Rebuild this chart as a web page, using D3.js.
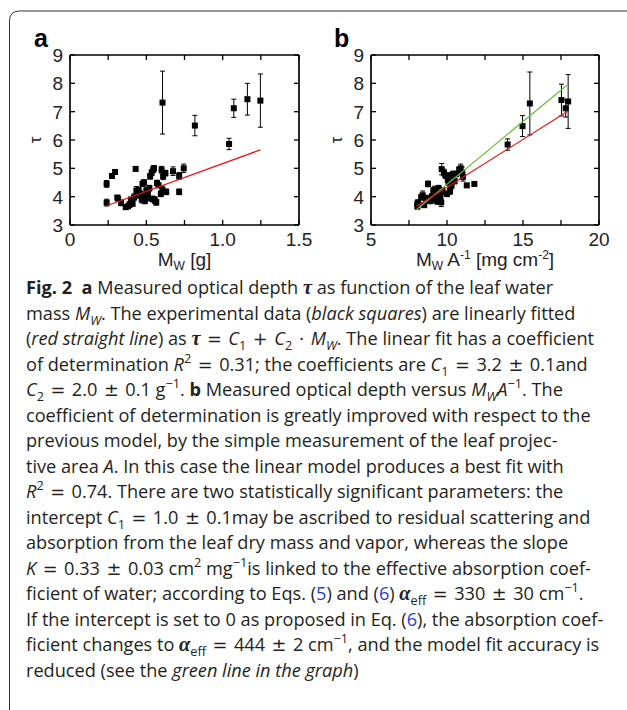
<!DOCTYPE html>
<html><head><meta charset="utf-8">
<script src="https://cdn.jsdelivr.net/npm/d3@7"></script>
<style>body{margin:0;background:#fff}svg{display:block}</style>
</head><body><svg id="c" width="627" height="710" xmlns="http://www.w3.org/2000/svg"></svg>
<script>
// ---------- DATA ----------
// Panel a: leaf water mass M_W [g] vs optical depth tau
const mwA  = [0.24,0.24,0.275,0.295,0.31,0.315,0.335,0.365,0.38,0.39,0.40,0.41,0.42,0.43,0.435,0.44,0.45,0.46,0.47,0.475,0.48,0.485,0.49,0.50,0.505,0.51,0.52,0.525,0.535,0.54,0.545,0.55,0.555,0.565,0.57,0.58,0.595,0.60,0.605,0.61,0.625,0.63,0.675,0.715,0.715,0.745,0.606,0.818,1.042,1.073,1.162,1.247];
const tauA = [4.45,3.79,4.73,4.87,3.97,3.93,3.78,3.63,3.66,3.72,3.90,3.75,3.98,4.98,4.22,4.05,4.20,4.10,3.90,4.45,4.00,4.50,3.85,4.20,3.95,4.08,4.30,4.72,4.85,3.92,4.95,5.00,3.88,3.80,4.48,4.40,4.10,4.95,4.25,4.72,4.83,4.17,4.90,4.73,4.17,5.00,7.32,6.51,5.86,7.12,7.44,7.39];
const errA = [0.12,0.12,0.08,0.08,0.07,0.06,0.10,0.05,0.06,0.10,0.08,0.08,0.12,0.06,0.14,0.10,0.12,0.10,0.12,0.10,0.14,0.10,0.10,0.12,0.10,0.12,0.10,0.10,0.10,0.10,0.10,0.10,0.12,0.10,0.10,0.08,0.10,0.12,0.12,0.12,0.10,0.10,0.15,0.12,0.10,0.15,1.11,0.36,0.20,0.32,0.56,0.94];
// Panel b: M_W A^-1 [mg cm^-2] vs tau
const mwaB = [8.05,8.05,8.10,8.30,8.40,8.50,8.60,8.75,8.80,8.90,9.00,9.10,9.15,9.20,9.30,9.35,9.40,9.45,9.50,9.55,9.60,9.62,9.65,9.70,9.80,9.90,10.00,10.05,10.10,10.20,10.25,10.30,10.40,10.50,10.60,10.80,10.90,11.00,11.05,11.30,11.80,15.45,14.97,13.99,17.53,17.81,17.97];
const tauB = [3.65,3.75,3.80,3.98,4.05,3.70,3.95,4.45,3.90,3.85,4.00,4.20,3.90,4.25,4.05,3.85,4.10,4.30,4.00,3.95,4.15,3.80,4.97,4.20,4.85,4.75,4.10,4.60,4.50,4.20,4.75,4.40,4.80,4.55,4.80,4.95,5.00,4.85,4.70,4.40,4.45,7.29,6.49,5.84,7.41,7.12,7.36];
const errB = [0.08,0.10,0.08,0.10,0.15,0.08,0.10,0.10,0.12,0.10,0.10,0.12,0.12,0.12,0.12,0.12,0.12,0.10,0.12,0.15,0.15,0.15,0.20,0.12,0.12,0.10,0.10,0.10,0.10,0.12,0.10,0.12,0.10,0.10,0.10,0.10,0.15,0.20,0.15,0.06,0.06,1.11,0.37,0.20,0.56,0.31,0.95];
// Fit lines (end points)
const fitAX = [0.24, 1.247],  fitAY = [3.68, 5.65];
const fitBRedX = [8.0, 17.97], fitBRedY = [3.66, 7.02];
const fitBGreenX = [8.0, 17.97], fitBGreenY = [3.55, 7.97];
// Ticks
const yTicks = [3,4,5,6,7,8,9];
const xTicksA = [0,0.25,0.5,0.75,1.0,1.25,1.5];
const xLabelsA = {"0":"0","0.5":"0.5","1":"1.0","1.5":"1.5"};
const xTicksB = [5,7.5,10,12.5,15,17.5,20];
const xLabelsB = {"5":"5","10":"10","15":"15","20":"20"};

// ---------- DRAW ----------
const svg = d3.select("#c");
svg.append("rect").attr("width",627).attr("height",710).attr("fill","#fff");
// frame of figure box
svg.append("path").attr("d","M9.5,710 V21 Q9.5,11 19.5,11 H627")
  .attr("fill","none").attr("stroke","#333").attr("stroke-width",1);

const TOP=55, BOT=225;
const AXFONT = "Liberation Sans, Arial, sans-serif";
function panel(o){
  const g = svg.append("g");
  const x = d3.scaleLinear().domain(o.xDomain).range([o.left,o.right]);
  const y = d3.scaleLinear().domain([3,9]).range([BOT,TOP]);
  // plot frame as four explicit lines
  const fr = g.append("g");
  [[o.left,TOP,o.right,TOP],[o.left,BOT,o.right,BOT],[o.left,TOP,o.left,BOT],[o.right,TOP,o.right,BOT]]
    .forEach(([x1,y1,x2,y2])=>fr.append("line").attr("x1",x1).attr("y1",y1).attr("x2",x2).attr("y2",y2)
      .style("stroke","#000").style("stroke-width","1.2px"));
  const font = (sel)=>sel.attr("font-family",AXFONT).attr("font-size",19).attr("fill","#222");
  const gb = g.append("g").attr("transform",`translate(0,${BOT})`)
    .call(d3.axisBottom(x).offset(0).tickValues(o.xTicks).tickSizeInner(-5).tickSizeOuter(0).tickPadding(8)
      .tickFormat(d=>o.xLabels[String(d)]||""));
  const gt = g.append("g").attr("transform",`translate(0,${TOP})`)
    .call(d3.axisTop(x).offset(0).tickValues(o.xTicks).tickSizeInner(-5).tickSizeOuter(0).tickFormat(""));
  const gl = g.append("g").attr("transform",`translate(${o.left},0)`)
    .call(d3.axisLeft(y).offset(0).tickValues(yTicks).tickSizeInner(-5).tickSizeOuter(0).tickPadding(7).tickFormat(d3.format("d")));
  const gr = g.append("g").attr("transform",`translate(${o.right},0)`)
    .call(d3.axisRight(y).offset(0).tickValues(yTicks).tickSizeInner(-5).tickSizeOuter(0).tickFormat(""));
  [gb,gt,gl,gr].forEach(a=>{
    a.selectAll("text").call(font);
    a.selectAll("line").style("stroke","#000").style("stroke-width","1.3px");
    a.selectAll("path.domain").style("stroke","#000").style("stroke-width","1.2px").attr("fill","none");
  });
  gl.selectAll("text").attr("dy","0.36em");
  // data
  const pts = o.xs.map((v,i)=>({x:v,y:o.ys[i],e:o.es[i]}));
  const eb = g.append("g").attr("stroke","#000").attr("stroke-width",1);
  pts.forEach(p=>{
    const cx = x(p.x), y1=y(p.y+p.e), y2=y(p.y-p.e);
    eb.append("line").attr("x1",cx).attr("x2",cx).attr("y1",y1).attr("y2",y2);
    eb.append("line").attr("x1",cx-2.5).attr("x2",cx+2.5).attr("y1",y1).attr("y2",y1);
    eb.append("line").attr("x1",cx-2.5).attr("x2",cx+2.5).attr("y1",y2).attr("y2",y2);
  });
  g.append("g").selectAll("rect").data(pts).join("rect")
    .attr("x",p=>x(p.x)-3).attr("y",p=>y(p.y)-3).attr("width",6).attr("height",6).attr("fill","#000");
  o.lines.forEach(L=>{
    g.append("line").attr("x1",x(L.xs[0])).attr("x2",x(L.xs[1]))
      .attr("y1",y(L.ys[0])).attr("y2",y(L.ys[1])).attr("stroke",L.c).attr("stroke-width",1.2);
  });
  // panel letter
  g.append("text").attr("x",o.letterX).attr("y",47).text(o.letter)
    .attr("font-family",AXFONT).attr("font-weight","bold").attr("font-size",25).attr("fill","#000");
  // y title
  g.append("text").attr("transform",`translate(${o.left-29},140) rotate(-90)`).attr("text-anchor","middle")
    .attr("font-family",AXFONT).attr("font-size",17).attr("fill","#222").text("τ");
  // x title
  const xt = g.append("text").attr("x",(o.left+o.right)/2).attr("y",266).attr("text-anchor","middle")
    .attr("font-family",AXFONT).attr("font-size",19).attr("fill","#222");
  let sh=0;
  o.xTitle.forEach(([s,t])=>{
    const ts = xt.append("tspan").text(t);
    let tg = s==="sub"?4:(s==="sup"?-7:0);
    if(tg!==sh) ts.attr("dy",tg-sh); sh=tg;
    if(s!=="n") ts.attr("font-size",12);
  });
  return g;
}
panel({xDomain:[0,1.5],left:70,right:299,xTicks:xTicksA,xLabels:xLabelsA,xs:mwA,ys:tauA,es:errA,
  lines:[{xs:fitAX,ys:fitAY,c:"#e8121a"}],letter:"a",letterX:34,
  xTitle:[["n","M"],["sub","W"],["n"," [g]"]]});
panel({xDomain:[5,20],left:371,right:599,xTicks:xTicksB,xLabels:xLabelsB,xs:mwaB,ys:tauB,es:errB,
  lines:[{xs:fitBGreenX,ys:fitBGreenY,c:"#6cbf3a"},{xs:fitBRedX,ys:fitBRedY,c:"#e8121a"}],letter:"b",letterX:334,
  xTitle:[["n","M"],["sub","W"],["n"," A"],["sup","-1"],["n"," [mg cm"],["sup","-2"],["n","]"]]});

// ---------- CAPTION ----------
const capLines = [
 [["b","Fig. 2"],["n","  "],["b","a"],["n"," Measured optical depth "],["m","τ"],["n"," as function of the leaf water"]],
 [["n","mass "],["i","M"],["isub","W"],["n",". The experimental data ("],["i","black squares"],["n",") are linearly fitted"]],
 [["n","("],["i","red straight line"],["n",") as "],["m","τ"],["n"," = "],["i","C"],["sub","1"],["n"," + "],["i","C"],["sub","2"],["n"," · "],["i","M"],["isub","W"],["n",". The linear fit has a coefficient"]],
 [["n","of determination "],["i","R"],["sup","2"],["n"," = 0.31; the coefficients are "],["i","C"],["sub","1"],["n"," = 3.2 ± 0.1and"]],
 [["i","C"],["sub","2"],["n"," = 2.0 ± 0.1 g"],["sup","−1"],["n",". "],["b","b"],["n"," Measured optical depth versus "],["i","M"],["isub","W"],["i","A"],["sup","−1"],["n",". The"]],
 [["n","coefficient of determination is greatly improved with respect to the"]],
 [["n","previous model, by the simple measurement of the leaf projec-"]],
 [["n","tive area "],["i","A"],["n",". In this case the linear model produces a best fit with"]],
 [["i","R"],["sup","2"],["n"," = 0.74. There are two statistically significant parameters: the"]],
 [["n","intercept "],["i","C"],["sub","1"],["n"," = 1.0 ± 0.1may be ascribed to residual scattering and"]],
 [["n","absorption from the leaf dry mass and vapor, whereas the slope"]],
 [["i","K"],["n"," = 0.33 ± 0.03 cm"],["sup","2"],["n"," mg"],["sup","−1"],["n","is linked to the effective absorption coef-"]],
 [["n","ficient of water; according to Eqs. ("],["l","5"],["n",") and ("],["l","6"],["n",") "],["m","α"],["sub","eff"],["n"," = 330 ± 30 cm"],["sup","−1"],["n","."]],
 [["n","If the intercept is set to 0 as proposed in Eq. ("],["l","6"],["n","), the absorption coef-"]],
 [["n","ficient changes to "],["m","α"],["sub","eff"],["n"," = 444 ± 2 cm"],["sup","−1"],["n",", and the model fit accuracy is"]],
 [["n","reduced (see the "],["i","green line in the graph"],["n",")"]]
];
const CAPFONT = "Open Sans, Noto Sans, sans-serif";
// fit font size to the width of a plain reference line
const probe = svg.append("text").attr("font-family",CAPFONT).attr("font-size",16)
  .text("coefficient of determination is greatly improved with respect to the");
const fs = 16*565/probe.node().getComputedTextLength();
probe.remove();

const cap = svg.append("g").attr("font-family",CAPFONT).attr("font-size",fs).attr("fill","#231f20");
capLines.forEach((segs,i)=>{
  const t = cap.append("text").attr("x",26).attr("y",294+i*25.5).style("white-space","pre");
  let sh=0;
  // split math operators out of normal segments
  const parts = [];
  segs.forEach(([s,txt])=>{
    if(s==="n"){
      txt.split(/([=±+·])/).forEach(p=>{ if(p!=="") parts.push([/^[=±+·]$/.test(p)?"op":"n",p]); });
    } else parts.push([s,txt]);
  });
  parts.forEach(([s,txt])=>{
    const ts = t.append("tspan").text(s==="op" ? "\u200A"+txt+"\u200A" : txt);
    const isSub = s==="sub"||s==="isub", isSup = s==="sup";
    const tg = isSub? fs*0.3 : (isSup? -fs*0.42 : 0);
    if(tg!==sh) ts.attr("dy",tg-sh); sh=tg;
    if(isSub||isSup) ts.attr("font-size",fs*0.7);
    if(s==="b") ts.attr("font-weight","bold");
    if(s==="i"||s==="isub") ts.attr("font-style","italic");
    if(s==="op") ts.attr("font-family","DejaVu Sans, sans-serif").attr("font-size",fs*0.98);
    if(s==="m") ts.attr("font-family","Liberation Serif, DejaVu Serif, serif").attr("font-style","italic").attr("font-weight","bold").attr("font-size",fs*1.12);
    if(s==="l") ts.attr("fill","#2b3fd6");
  });
});
</script></body></html>
